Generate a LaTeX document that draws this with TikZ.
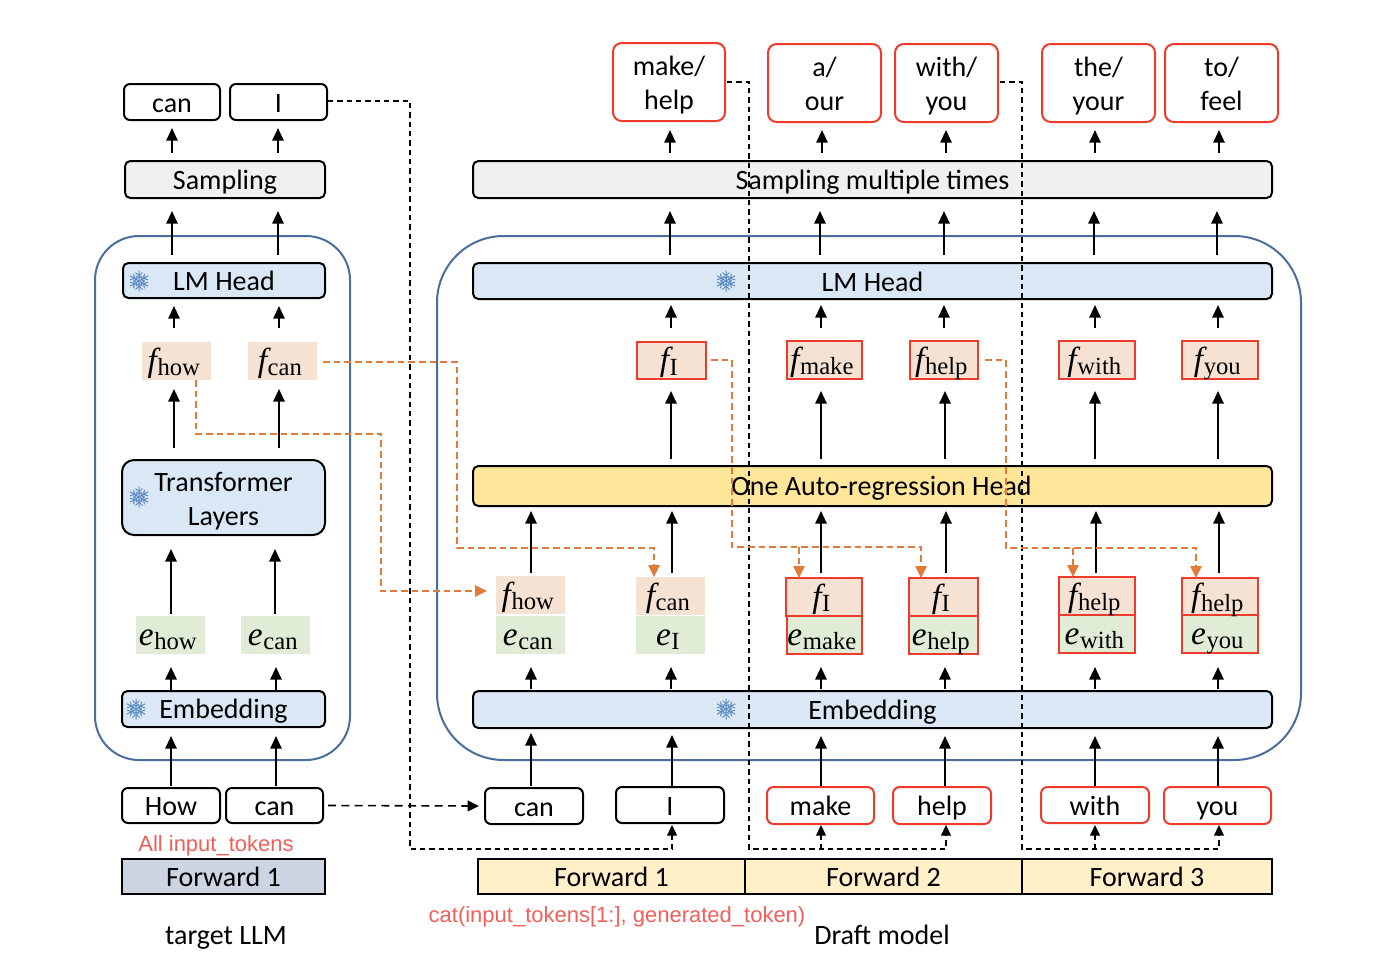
\documentclass[tikz,border=0pt]{standalone}
\usepackage[no-math]{fontspec}
\setmainfont{Carlito}
\newfontfamily\arialf{Liberation Sans}
\newfontfamily\serifm{Liberation Serif}
\usetikzlibrary{calc,arrows.meta}
\definecolor{blueline}{HTML}{4A6F9C}
\definecolor{bluefill}{HTML}{DAE8F6}
\definecolor{greyfill}{HTML}{F0F0F0}
\definecolor{peach}{HTML}{F6E2D3}
\definecolor{leaf}{HTML}{E0ECD6}
\definecolor{gold}{HTML}{FFE699}
\definecolor{cream}{HTML}{FFF0C9}
\definecolor{slate}{HTML}{CDD5E2}
\definecolor{redline}{HTML}{EE3B2B}
\definecolor{redtext}{HTML}{F0605A}
\definecolor{orangeline}{HTML}{E07B39}
\definecolor{flakeblue}{HTML}{5B8BC0}
\newcommand\mystrut{\rule{0pt}{18.2pt}\rule[-3pt]{0pt}{3pt}}
\newcommand\toptwo{\rule{0pt}{18.5pt}}
\newcommand\topthree{\rule{0pt}{20.5pt}}
\tikzset{
  x=0.75pt,y=-0.75pt,
  every node/.style={inner sep=0pt,outer sep=0pt,font=\fontsize{21}{25.5}\selectfont,align=center,
    execute at begin node=\mystrut,execute at end node=\mystrut},
  tok/.style={draw=black,line width=1.5pt,rounded corners=4.5pt,fill=white},
  redtok/.style={draw=redline,line width=1.5pt,rounded corners=6.5pt,fill=white},
  bar/.style={draw=black,line width=1.5pt,rounded corners=4pt},
  fwd/.style={draw=black,line width=1.5pt},
  peachbox/.style={fill=peach},
  leafbox/.style={fill=leaf},
  redpeach/.style={fill=peach,draw=redline,line width=1.4pt},
  redleaf/.style={fill=leaf,draw=redline,line width=1.4pt},
  group/.style={draw=blueline,line width=1.5pt},
  arr/.style={draw=black,line width=1.5pt,-{Triangle[length=9.5pt,width=8.5pt]}},
  blackdash/.style={draw=black,line width=0.9pt,dash pattern=on 4pt off 3pt},
  blackdasharr/.style={blackdash,-{Triangle[length=8pt,width=7.5pt]}},
  heavydasharr/.style={draw=black,line width=1.2pt,dash pattern=on 6pt off 4pt,-{Triangle[length=8.5pt,width=8pt]}},
  orangedash/.style={draw=orangeline,line width=1.1pt,dash pattern=on 5pt off 3pt},
  orangearr/.style={orangedash,-{Triangle[length=9pt,width=8.5pt]}},
  lab/.style={font=\fontsize{21}{25.5}\selectfont},
  redlab/.style={font=\arialf\fontsize{16.5}{20}\selectfont,text=redtext},
}
% \bx{name}{style}{x1}{y1}{x2}{y2}{text}
\newcommand\bx[7]{\node[#2,anchor=center,minimum width={(#5-#3)*0.75pt},minimum height={(#6-#4)*0.75pt}] (#1) at ({(#3+#5)/2},{(#4+#6)/2}) {#7};}
% \conn{from}{to}{x}{gap at from}{gap at to}: upward arrow
\newcommand\conn[5]{\draw[arr] ($(#1.north -| #3,0)+(0,-#4)$) -- ($(#2.south -| #3,0)+(0,#5)$);}
\newcommand\flake[3]{\begin{scope}[shift={(#2,#3)}]
  \coordinate (#1) at (0,0);
  \foreach \a in {0,60,...,300}{\draw[flakeblue,line width=0.75pt,rotate=\a] (0,0)--(0,-10.5) (0,-5)--(-3.5,-8.5) (0,-5)--(3.5,-8.5) (0,-2.5)--(-2.5,-5) (0,-2.5)--(2.5,-5);}
\end{scope}}
\newcommand\subvar[2]{\smash{{\serifm\fontsize{25}{25}\selectfont\itshape #1\kern0.5pt}\raisebox{-3.5pt}{\serifm\fontsize{18.5}{20}\selectfont #2}}\hspace*{4pt}}
\newcommand\fv[2]{\subvar{f}{#2}}
\newcommand\ev[2]{\subvar{e}{#2}}
\begin{document}
\begin{tikzpicture}
\useasboundingbox (0,0) rectangle (1390,976);
% groups
\draw[group,rounded corners=33pt] (95,236) rectangle (350,760);
\draw[group,rounded corners=50pt] (437,236) rectangle (1301,760);
% left column
\bx{lcan}{tok}{124}{84}{220}{120}{can}
\bx{lI}{tok}{230}{84}{327}{120}{I}
\bx{lsamp}{bar,fill=greyfill}{125}{161}{325}{198}{Sampling}
\bx{llm}{bar,fill=bluefill}{123}{263}{325}{298}{LM Head}
\bx{lfhow}{peachbox}{142}{342}{211}{380}{\fv{f}{how}}
\bx{lfcan}{peachbox}{248}{342}{317}{380}{\fv{f}{can}}
\bx{ltrans}{bar,fill=bluefill,rounded corners=9pt}{122}{460}{325}{535}{\topthree Transformer\\Layers}
\bx{lehow}{leafbox}{136}{616}{205}{654}{\ev{e}{how}}
\bx{lecan}{leafbox}{241}{616}{310}{654}{\ev{e}{can}}
\bx{lemb}{bar,fill=bluefill}{122}{691}{325}{727}{Embedding}
\bx{lHow}{tok}{122}{788}{220}{823}{How}
\bx{lcanin}{tok}{226}{788}{323}{823}{can}
\bx{lfwd}{fwd,fill=slate}{122}{859}{325}{894}{Forward 1}
\node[redlab] (lall) at (216,841.5) {All input\_tokens};
\node[lab] (ltarget) at (226,935) {target LLM};
% right column
\bx{omh}{redtok}{613}{43}{725}{121}{\toptwo make/\\help}
\bx{oao}{redtok}{768}{44}{881}{122}{\toptwo a/\\our}
\bx{owy}{redtok}{895}{44}{998}{122}{\toptwo with/\\you}
\bx{oty}{redtok}{1042}{44}{1155}{122}{\toptwo the/\\your}
\bx{otf}{redtok}{1165}{44}{1278}{122}{\toptwo to/\\feel}
\bx{rsamp}{bar,fill=greyfill}{473}{161}{1272}{198}{Sampling multiple times}
\bx{rlm}{bar,fill=bluefill}{473}{263}{1272}{299}{LM Head}
\bx{rfI}{redpeach}{637}{342}{706}{379}{\fv{f}{I}}
\bx{rfmake}{redpeach}{787}{341}{862}{379}{\fv{f}{make}}
\bx{rfhelp}{redpeach}{910}{341}{978}{379}{\fv{f}{help}}
\bx{rfwith}{redpeach}{1059}{341}{1135}{379}{\fv{f}{with}}
\bx{rfyou}{redpeach}{1182}{341}{1258}{379}{\fv{f}{you}}
\bx{rar}{bar,fill=gold}{473}{466}{1272}{506}{\hspace*{13.5pt}One Auto-regression Head}
\bx{gecan}{leafbox}{496}{616}{565}{654}{\ev{e}{can}}
\bx{geI}{leafbox}{636}{616}{705}{654}{\ev{e}{I}}
\bx{gemake}{redleaf}{787}{616}{862}{654}{\ev{e}{make}}
\bx{gehelp}{redleaf}{909}{616}{978}{654}{\ev{e}{help}}
\bx{gewith}{redleaf}{1059}{615}{1135}{653}{\ev{e}{with}}
\bx{geyou}{redleaf}{1182}{615}{1258}{653}{\ev{e}{you}}
\bx{gfhow}{peachbox}{496}{576}{565}{614}{\fv{f}{how}}
\bx{gfcan}{peachbox}{636}{577}{705}{615}{\fv{f}{can}}
\bx{gfIa}{redpeach}{786}{578}{862}{616}{\fv{f}{I}}
\bx{gfIb}{redpeach}{909}{578}{978}{616}{\fv{f}{I}}
\bx{gfha}{redpeach}{1059}{577}{1135}{615}{\fv{f}{help}}
\bx{gfhb}{redpeach}{1182}{578}{1258}{615}{\fv{f}{help}}
\bx{remb}{bar,fill=bluefill}{473}{691}{1272}{728}{Embedding}
\bx{ican}{tok}{485}{788}{583}{824}{can}
\bx{iI}{tok}{616}{787}{724}{823}{I}
\bx{imake}{redtok,rounded corners=5pt}{767}{787}{874}{824}{make}
\bx{ihelp}{redtok,rounded corners=5pt}{893}{787}{991}{824}{help}
\bx{iwith}{redtok,rounded corners=5pt}{1041}{787}{1149}{823}{with}
\bx{iyou}{redtok,rounded corners=5pt}{1164}{787}{1271}{824}{you}
\bx{fa}{fwd,fill=cream}{478}{859}{745}{894}{Forward 1}
\bx{fb}{fwd,fill=cream}{745}{859}{1022}{894}{Forward 2}
\bx{fc}{fwd,fill=cream}{1022}{859}{1272}{894}{Forward 3}
\node[redlab] (rcat) at (617,912.5) {cat(input\_tokens[1:], generated\_token)};
\node[lab] (rdraft) at (882,934) {Draft model};
% snowflakes
\flake{fl1}{139}{281}
\flake{fl2}{139}{497}
\flake{fl3}{136}{709}
\flake{fl4}{726}{281}
\flake{fl5}{726}{709}
% left arrows
\conn{lsamp}{lcan}{172}{8}{8}
\conn{lsamp}{lI}{278}{8}{8}
\conn{llm}{lsamp}{172}{8}{13}
\conn{llm}{lsamp}{278}{8}{13}
\conn{lfhow}{llm}{174}{14}{8}
\conn{lfcan}{llm}{279}{14}{8}
\conn{ltrans}{lfhow}{174}{12}{9}
\conn{ltrans}{lfcan}{279}{12}{9}
\conn{lehow}{ltrans}{171}{2}{14}
\conn{lecan}{ltrans}{275}{2}{14}
\conn{lemb}{lehow}{171}{1}{13}
\conn{lemb}{lecan}{276}{1}{13}
\conn{lHow}{lemb}{171}{2}{9}
\conn{lcanin}{lemb}{276}{2}{9}
% right arrows
\conn{rsamp}{omh}{670}{8}{9}
\conn{rsamp}{oao}{822}{8}{8}
\conn{rsamp}{owy}{946}{8}{8}
\conn{rsamp}{oty}{1095}{8}{8}
\conn{rsamp}{otf}{1219}{8}{8}
\conn{rlm}{rsamp}{670}{8}{13}
\conn{rlm}{rsamp}{820}{8}{13}
\conn{rlm}{rsamp}{944}{8}{13}
\conn{rlm}{rsamp}{1094}{8}{13}
\conn{rlm}{rsamp}{1217}{8}{13}
\conn{rfI}{rlm}{671}{14}{6}
\conn{rfmake}{rlm}{821}{13}{6}
\conn{rfhelp}{rlm}{944}{13}{6}
\conn{rfwith}{rlm}{1095}{13}{6}
\conn{rfyou}{rlm}{1218}{13}{6}
\conn{rar}{rfI}{671}{7}{12}
\conn{rar}{rfmake}{821}{7}{12}
\conn{rar}{rfhelp}{945}{7}{12}
\conn{rar}{rfwith}{1095}{7}{12}
\conn{rar}{rfyou}{1218}{7}{12}
\conn{gfhow}{rar}{531}{3}{5}
\conn{gfcan}{rar}{672}{4}{5}
\conn{gfIa}{rar}{821}{5}{5}
\conn{gfIb}{rar}{946}{5}{5}
\conn{gfha}{rar}{1096}{4}{5}
\conn{gfhb}{rar}{1219}{5}{5}
\conn{remb}{gecan}{531}{2}{13}
\conn{remb}{geI}{671}{2}{13}
\conn{remb}{gemake}{821}{2}{13}
\conn{remb}{gehelp}{945}{2}{13}
\conn{remb}{gewith}{1095}{2}{14}
\conn{remb}{geyou}{1218}{2}{14}
\conn{ican}{remb}{531}{2}{5}
\conn{iI}{remb}{672}{1}{7}
\conn{imake}{remb}{821}{1}{8}
\conn{ihelp}{remb}{945}{1}{8}
\conn{iwith}{remb}{1095}{1}{8}
\conn{iyou}{remb}{1218}{1}{8}
% black dashed feedback
\draw[heavydasharr] ($(lcanin.east)+(5,0)$) -- ($(ican.west)+(-6,0)$);
\coordinate (dI) at (410,849);
\coordinate (dm) at (749,849);
\coordinate (dw) at (1022,849);
\draw[blackdasharr] ($(lI.east)+(1,-1)$) -| (dI) -| ($(iI.south -| 672,0)+(0,2)$);
\draw[blackdasharr] ($(omh.east)+(2,0)$) -| (dm) -| ($(ihelp.south -| 946,0)+(0,1)$);
\draw[blackdasharr] (dm -| 821,0) -- ($(imake.south -| 821,0)+(0,1)$);
\draw[blackdasharr] ($(owy.east)+(2,-1)$) -| (dw) -| ($(iyou.south -| 1219,0)+(0,1)$);
\draw[blackdasharr] (dw -| 1095,0) -- ($(iwith.south -| 1095,0)+(0,2)$);
% orange dashed feature reuse
\coordinate (o1) at (196,434);
\coordinate (o2) at (381,591);
\draw[orangearr] (lfhow.south -| 196,0) |- (o1) -- (o1 -| 381,0) |- ($(gfhow.west |- 0,591)+(-9,0)$);
\coordinate (o3) at (457,548);
\draw[orangearr] ($(lfcan.east |- 0,362)+(6,0)$) -| (o3) -- (o3 -| 654,0) -- (gfcan.north -| 654,0);
\coordinate (o4) at (732,547);
\draw[orangearr] ($(rfI.east |- 0,360)+(5,0)$) -| (o4) -- (o4 -| 921,0) -- (gfIb.north -| 921,0);
\draw[orangearr] (o4 -| 799,0) -- (gfIa.north -| 799,0);
\coordinate (o5) at (1006,548);
\draw[orangearr] ($(rfhelp.east |- 0,360)+(7,0)$) -| (o5) -- (o5 -| 1196,0) -- (gfhb.north -| 1196,0);
\draw[orangearr] (o5 -| 1073,0) -- (gfha.north -| 1073,0);
\end{tikzpicture}
\end{document}
